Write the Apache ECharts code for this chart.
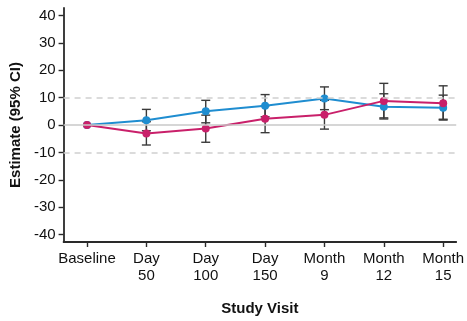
<!DOCTYPE html>
<html>
<head>
<meta charset="utf-8">
<script src="https://cdn.jsdelivr.net/npm/echarts@6/dist/echarts.min.js"></script>
<style>
  html, body { margin: 0; padding: 0; background: #fff; }
  #chart { width: 467px; height: 321px; }
</style>
</head>
<body>
<div id="chart"></div>
<script>
// Study visits (x positions are their indices)
const visits = ['Baseline', 'Day\n50', 'Day\n100', 'Day\n150', 'Month\n9', 'Month\n12', 'Month\n15'];
const yTicks = [-40, -30, -20, -10, 0, 10, 20, 30, 40];

// Group A (blue): estimate with 95% CI
const blueEst = [0, 1.7, 5.0, 7.0, 9.7, 6.7, 6.3];
const blueLow = [0, -2.1, 0.8, 3.0, 5.6, 2.2, 1.8];
const blueHigh = [0, 5.7, 9.0, 11.1, 13.9, 11.4, 10.9];

// Group B (pink): estimate with 95% CI
const pinkEst = [0, -3.1, -1.3, 2.3, 3.7, 8.8, 7.9];
const pinkLow = [0, -7.3, -6.3, -2.8, -1.5, 2.6, 2.1];
const pinkHigh = [0, 1.2, 3.6, 7.0, 9.0, 15.2, 14.3];

const BLUE = '#1f8dd0';
const PINK = '#c9206a';
const AXIS = '#2a2a2a';

const chart = echarts.init(document.getElementById('chart'), null, { renderer: 'canvas' });

function ciData(low, high) {
  return low.map((l, i) => [i, l, high[i]]).filter(d => d[1] !== d[2]);
}

function errorBars(params, api) {
  const x = api.value(0);
  const lo = api.coord([x, api.value(1)]);
  const hi = api.coord([x, api.value(2)]);
  const w = 4.5;
  const style = { stroke: '#3a3a3a', lineWidth: 1.4 };
  return {
    type: 'group',
    children: [
      { type: 'line', shape: { x1: lo[0], y1: lo[1], x2: hi[0], y2: hi[1] }, style },
      { type: 'line', shape: { x1: lo[0] - w, y1: lo[1], x2: lo[0] + w, y2: lo[1] }, style },
      { type: 'line', shape: { x1: hi[0] - w, y1: hi[1], x2: hi[0] + w, y2: hi[1] }, style }
    ]
  };
}

const font = 'Liberation Sans, Arial, sans-serif';

chart.setOption({
  animation: false,
  textStyle: { fontFamily: font },
  grid: { left: 63, right: 7, top: 8, bottom: 77, containLabel: false },
  xAxis: {
    type: 'value',
    min: -0.395,
    max: 6.22,
    name: 'Study Visit',
    nameLocation: 'middle',
    nameGap: 59,
    nameTextStyle: { fontSize: 15, fontWeight: 'bold', color: '#111', fontFamily: font },
    axisLine: { show: true, onZero: false, lineStyle: { color: AXIS, width: 1.8 } },
    axisTick: { show: true, length: 5, lineStyle: { color: AXIS, width: 1.4 }, customValues: visits.map((v, i) => i) },
    axisLabel: {
      customValues: visits.map((v, i) => i),
      formatter: v => visits[Math.round(v)] || '',
      fontSize: 15, color: '#111', lineHeight: 17, margin: 8, fontFamily: font
    },
    splitLine: { show: false }
  },
  yAxis: {
    type: 'value',
    min: -42.7,
    max: 42.7,
    name: 'Estimate (95% CI)',
    nameLocation: 'middle',
    nameGap: 38,
    nameTextStyle: { fontSize: 15, fontWeight: 'bold', color: '#111', fontFamily: font },
    axisLine: { show: true, onZero: false, lineStyle: { color: AXIS, width: 1.8 } },
    axisTick: { show: true, length: 5, lineStyle: { color: AXIS, width: 1.4 }, customValues: yTicks },
    axisLabel: { customValues: yTicks, fontSize: 15, color: '#111', margin: 8, fontFamily: font },
    splitLine: { show: false }
  },
  series: [
    {
      type: 'line',
      data: [],
      silent: true,
      markLine: {
        silent: true,
        symbol: 'none',
        label: { show: false },
        data: [
          { yAxis: 0, lineStyle: { color: '#c8c8c8', width: 1.5, type: 'solid' } },
          { yAxis: 10, lineStyle: { color: '#cfcfcf', width: 1.5, type: [6, 5] } },
          { yAxis: -10, lineStyle: { color: '#cfcfcf', width: 1.5, type: [6, 5] } }
        ]
      },
      z: 1
    },
    {
      type: 'custom',
      renderItem: errorBars,
      data: ciData(blueLow, blueHigh),
      encode: { x: 0, y: [1, 2] },
      z: 2,
      silent: true
    },
    {
      type: 'custom',
      renderItem: errorBars,
      data: ciData(pinkLow, pinkHigh),
      encode: { x: 0, y: [1, 2] },
      z: 2,
      silent: true
    },
    {
      type: 'line',
      data: blueEst.map((v, i) => [i, v]),
      symbol: 'circle',
      symbolSize: 8,
      lineStyle: { color: BLUE, width: 2 },
      itemStyle: { color: BLUE },
      z: 3
    },
    {
      type: 'line',
      data: pinkEst.map((v, i) => [i, v]),
      symbol: 'circle',
      symbolSize: 8,
      lineStyle: { color: PINK, width: 2 },
      itemStyle: { color: PINK },
      z: 4
    }
  ]
});
</script>
</body>
</html>
